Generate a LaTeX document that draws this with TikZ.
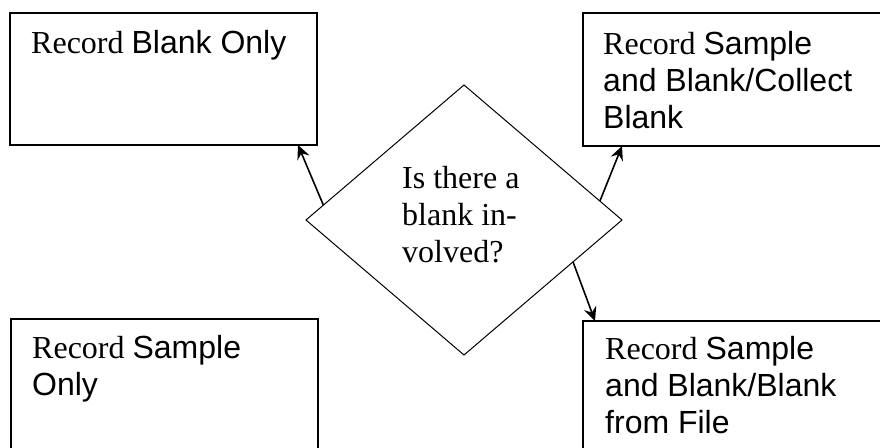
\documentclass[tikz,border=0pt]{standalone}
\usepackage{fontspec}
\setmainfont{Liberation Serif}
\newfontfamily\arialf{Liberation Sans}
\usetikzlibrary{shapes.geometric,arrows.meta,calc}
\tikzset{
  boxnode/.style={draw=black,line width=1.8pt,rectangle,inner sep=0pt,outer sep=0pt,anchor=north west},
  decnode/.style={draw=black,line width=1pt,diamond,inner sep=0pt,outer sep=0pt,minimum width=316pt,minimum height=270pt},
  txt/.style={anchor=base west,inner sep=0pt,align=left,font=\fontsize{32}{37}\selectfont},
  conn/.style={line width=1.6pt,-{Stealth[length=14pt,width=13pt,inset=5pt]}}
}
\begin{document}
\begin{tikzpicture}[x=1pt,y=-1pt]
\useasboundingbox (0,0) rectangle (880,447);
\clip (0,0) rectangle (880,447);
\node[boxnode,minimum width=307pt,minimum height=132pt] (tl) at (10,13) {};
\node[boxnode,minimum width=320pt,minimum height=133pt] (tr) at (583,13) {};
\node[boxnode,minimum width=307pt,minimum height=150pt] (bl) at (11,319) {};
\node[boxnode,minimum width=320pt,minimum height=150pt] (br) at (583,321) {};
\node[decnode] (d) at (464,220) {};
\node[txt] (tlt) at (31,53) {Record \arialf Blank Only};
\node[txt] (trt) at (603,128) {Record \arialf Sample\\\arialf and Blank/Collect\\\arialf Blank};
\node[txt] (blt) at (32,395) {Record \arialf Sample\\\arialf Only};
\node[txt] (brt) at (605,433) {Record \arialf Sample\\\arialf and Blank/Blank\\\arialf from File};
\node[txt] (dt) at (402,262) {Is there a\\blank in-\\volved?};
\draw[conn] ($(d.west)!0.11!(d.north)$) -- ($(tl.south east)+(-19,0)$);
\draw[conn] ($(d.north)!0.86!(d.east)$) -- ($(tr.south west)+(39,0)$);
\draw[conn] ($(d.east)!0.31!(d.south)$) -- ($(br.north west)+(12,0)$);
\end{tikzpicture}
\end{document}
